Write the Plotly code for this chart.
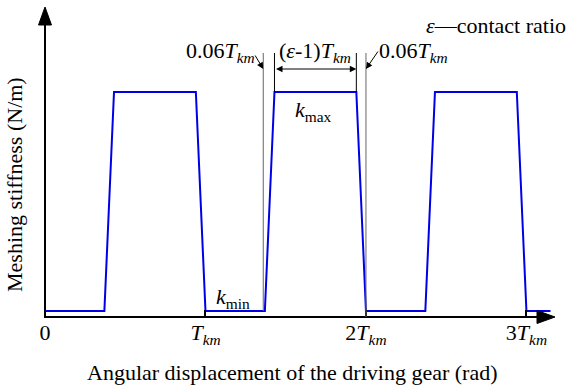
import plotly.graph_objects as go

# ---- data (angle in units of the mesh period T_km, stiffness in arbitrary units)
angle_T = [0, 0.37, 0.43, 0.94, 1.00, 1.37, 1.43, 1.94, 2.00, 2.37, 2.43, 2.94, 3.00, 3.15]
k_min = 6
k_max = 225
stiffness = [k_min, k_min, k_max, k_max, k_min, k_min, k_max, k_max,
             k_min, k_min, k_max, k_max, k_min, k_min]
tick_vals = [0, 1, 2, 3]
tick_text = ["0", "<i>T</i><sub><i>km</i></sub>", "2<i>T</i><sub><i>km</i></sub>",
             "3<i>T</i><sub><i>km</i></sub>"]

W, H = 582, 385
ML, MR, MT, MB = 45, 27, 7, 68
PW, PH = W - ML - MR, H - MT - MB
X_MAX = 3.178
Y_MAX = 310
FONT = "Liberation Serif"


def px(x):
    return (x - ML) / PW


def py(y):
    return (H - MB - y) / PH


fig = go.Figure()
fig.add_trace(go.Scatter(x=angle_T, y=stiffness, mode="lines",
                         line=dict(color="#0000e6", width=2), hoverinfo="skip"))

shapes = []
# axes lines
shapes.append(dict(type="line", xref="paper", yref="paper", x0=px(45), x1=px(45), y0=py(318), y1=py(24),
                   line=dict(color="black", width=2)))
shapes.append(dict(type="line", xref="paper", yref="paper", x0=px(44), x1=px(538), y0=py(317), y1=py(317),
                   line=dict(color="black", width=2)))
# arrowheads
shapes.append(dict(type="path", xref="paper", yref="paper",
                   path=f"M {px(38.5)},{py(25)} L {px(45)},{py(7)} L {px(51.5)},{py(25)} Z",
                   fillcolor="black", line=dict(color="black", width=1)))
shapes.append(dict(type="path", xref="paper", yref="paper",
                   path=f"M {px(537)},{py(310.5)} L {px(555)},{py(317)} L {px(537)},{py(323.5)} Z",
                   fillcolor="black", line=dict(color="black", width=1)))

# dimension lines around the second tooth pair
dim_y = k_max + 23
ext_top = k_max + 39
shapes.append(dict(type="line", xref="x", yref="y", x0=angle_T[5] - 0.01, x1=angle_T[5] - 0.01,
                   y0=k_min, y1=ext_top, line=dict(color="#666", width=1)))
shapes.append(dict(type="line", xref="x", yref="y", x0=angle_T[6], x1=angle_T[6],
                   y0=k_max, y1=ext_top, line=dict(color="black", width=1)))
shapes.append(dict(type="line", xref="x", yref="y", x0=angle_T[7], x1=angle_T[7],
                   y0=k_max, y1=ext_top, line=dict(color="black", width=1)))
shapes.append(dict(type="line", xref="x", yref="y", x0=angle_T[8], x1=angle_T[8],
                   y0=0, y1=ext_top, line=dict(color="#666", width=1)))

ann = []
tf = dict(family=FONT, size=22, color="black")
# double arrow
ann.append(dict(x=angle_T[7], y=dim_y, ax=angle_T[6], ay=dim_y, xref="x", yref="y",
                axref="x", ayref="y", text="", showarrow=True, arrowhead=2, arrowside="end+start",
                arrowsize=1.3, arrowwidth=1, arrowcolor="black"))
# left / right pointers
ann.append(dict(x=angle_T[5] - 0.01, y=dim_y, ax=-9, ay=-15, xref="x", yref="y", text="",
                showarrow=True, arrowhead=2, arrowsize=1.3, arrowwidth=1, arrowcolor="black"))
ann.append(dict(x=angle_T[8], y=dim_y, ax=13, ay=-19, xref="x", yref="y", text="",
                showarrow=True, arrowhead=2, arrowsize=1.3, arrowwidth=1, arrowcolor="black"))

ann.append(dict(x=px(257), y=py(52), xref="paper", yref="paper", xanchor="right", yanchor="middle",
                text="0.06<i>T</i><sub><i>km</i></sub>", showarrow=False, font=tf))
ann.append(dict(x=px(315), y=py(52), xref="paper", yref="paper", xanchor="center", yanchor="middle",
                text="(<i>ε</i>-1)<i>T</i><sub><i>km</i></sub>", showarrow=False, font=tf))
ann.append(dict(x=px(377), y=py(52), xref="paper", yref="paper", xanchor="left", yanchor="middle",
                text="0.06<i>T</i><sub><i>km</i></sub>", showarrow=False, font=tf))
ann.append(dict(x=px(313), y=py(111), xref="paper", yref="paper", xanchor="center", yanchor="middle",
                text="<i>k</i><sub>max</sub>", showarrow=False, font=tf))
ann.append(dict(x=px(233), y=py(298), xref="paper", yref="paper", xanchor="center", yanchor="middle",
                text="<i>k</i><sub>min</sub>", showarrow=False, font=tf))
ann.append(dict(x=px(424), y=py(26), xref="paper", yref="paper", xanchor="left", yanchor="middle",
                text="<i>ε</i>—contact ratio", showarrow=False, font=tf))
# axis titles
ann.append(dict(x=px(292), y=py(372), xref="paper", yref="paper", xanchor="center", yanchor="middle",
                text="Angular displacement of the driving gear (rad)", showarrow=False,
                font=dict(family=FONT, size=22, color="black")))
ann.append(dict(x=px(14), y=py(185), xref="paper", yref="paper", xanchor="center", yanchor="middle",
                text="Meshing stiffness (N/m)", textangle=-90, showarrow=False,
                font=dict(family=FONT, size=22, color="black")))

fig.update_layout(
    width=W, height=H, margin=dict(l=ML, r=MR, t=MT, b=MB),
    paper_bgcolor="white", plot_bgcolor="white", showlegend=False,
    shapes=shapes, annotations=ann,
    xaxis=dict(range=[0, X_MAX], showgrid=False, zeroline=False, showline=False,
               tickvals=tick_vals, ticktext=tick_text, ticks="inside", ticklen=7,
               tickwidth=1.5, tickcolor="black", tickfont=dict(family=FONT, size=22, color="black"),
               fixedrange=True),
    yaxis=dict(range=[0, Y_MAX], showgrid=False, zeroline=False, showline=False,
               showticklabels=False, ticks="", fixedrange=True),
)

fig.write_html("out.html")
